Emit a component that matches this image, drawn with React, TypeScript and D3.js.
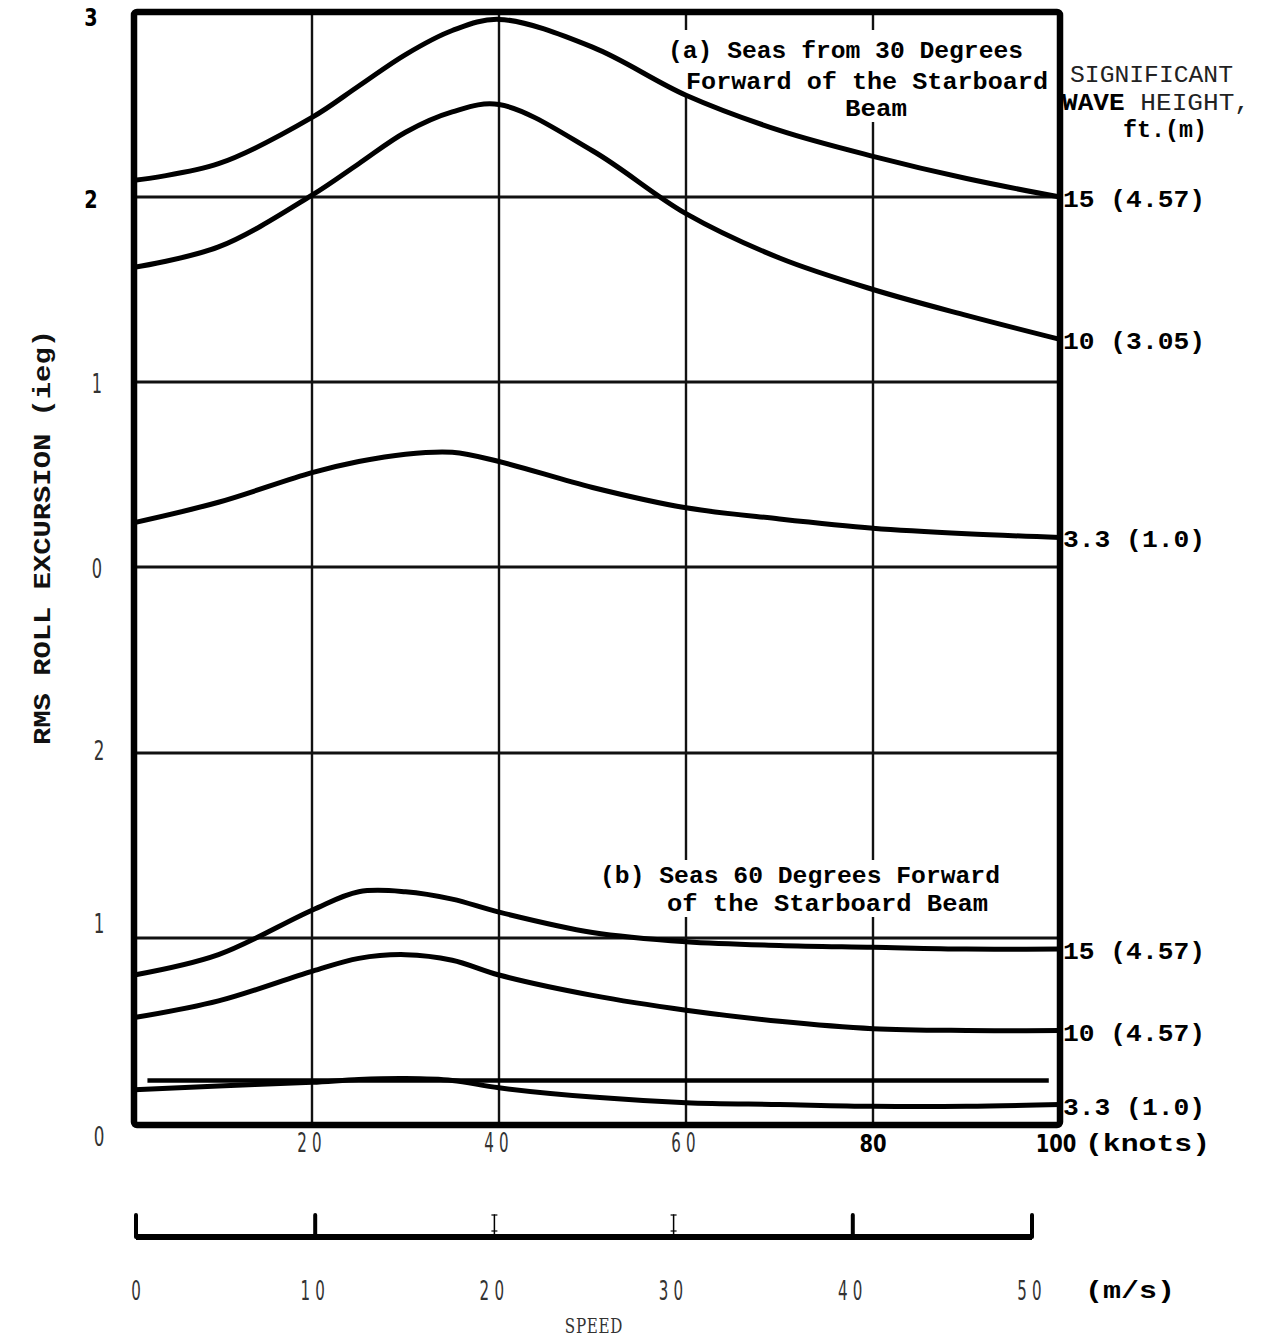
import React from "react";
import * as d3 from "d3";

// Speed samples (knots) and RMS roll excursion (deg) for each significant wave height
const KNOTS = [1, 10, 20, 25, 30, 35, 40, 50, 60, 70, 80, 90, 100];

// (a) seas from 30 degrees forward of the starboard beam
const ROLL_A_15 = [2.09, 2.18, 2.43, 2.6, 2.77, 2.9, 2.96, 2.81, 2.55, 2.36, 2.22, 2.1, 2.0];
const ROLL_A_10 = [1.62, 1.73, 2.01, 2.18, 2.35, 2.46, 2.5, 2.25, 1.91, 1.67, 1.5, 1.36, 1.23];
const ROLL_A_33 = [0.24, 0.35, 0.51, 0.57, 0.61, 0.62, 0.57, 0.43, 0.32, 0.26, 0.21, 0.18, 0.16];

// (b) seas 60 degrees forward of the starboard beam
const ROLL_B_15 = [0.8, 0.91, 1.15, 1.25, 1.25, 1.21, 1.14, 1.03, 0.98, 0.96, 0.95, 0.94, 0.94];
const ROLL_B_10 = [0.57, 0.66, 0.82, 0.89, 0.91, 0.88, 0.8, 0.69, 0.61, 0.55, 0.51, 0.5, 0.5];
const ROLL_B_33 = [0.18, 0.2, 0.22, 0.235, 0.24, 0.23, 0.19, 0.14, 0.11, 0.1, 0.09, 0.09, 0.1];

const WAVE_LABELS_A = ["15 (4.57)", "10 (3.05)", "3.3 (1.0)"];
const WAVE_LABELS_B = ["15 (4.57)", "10 (4.57)", "3.3 (1.0)"];

const KNOT_TICKS = [20, 40, 60, 80, 100];
const KNOT_TICKS_BOLD = [80, 100];
const MS_TICKS = [0, 10, 20, 30, 40, 50];
const MS_TICKS_THIN = [20, 30];
const UPPER_TICKS = [3, 2, 1, 0];
const UPPER_TICKS_BOLD = [3, 2];
const UPPER_GRID = [2, 1, 0];
const LOWER_TICKS = [2, 1, 0];
const LOWER_GRID = [2, 1];
const LOWER_REF = { value: 0.23, from: 2.4, to: 98.8 };

const W = 1261;
const H = 1340;
const FRAME = { left: 134, right: 1060, top: 12, bottom: 1125 };

const mono = "'Liberation Mono', 'DejaVu Sans Mono', monospace";
const sans = "'DejaVu Sans', sans-serif";
const serif = "'DejaVu Serif', 'Liberation Serif', serif";

// Tall, condensed numerals drawn by squeezing a regular face horizontally
function Narrow(props: {
  x: number;
  y: number;
  children: React.ReactNode;
  size?: number;
  squeeze?: number;
  bold?: boolean;
  spacing?: number;
  family?: string;
  anchor?: string;
}) {
  const { x, y, children, size = 26, squeeze = 0.62, bold = false, spacing = 0, family = sans, anchor = "middle" } = props;
  return (
    <text
      transform={`translate(${x},${y}) scale(${squeeze},1)`}
      textAnchor={anchor}
      fontFamily={family}
      fontWeight={bold ? "bold" : "normal"}
      fontSize={size}
      letterSpacing={spacing}
      fill={bold ? "#000" : "#333"}
    >
      {children}
    </text>
  );
}

export default function App() {
  const x = d3.scaleLinear().domain([0, 100]).range([125, 1060]);
  const yUp = d3.scaleLinear().domain([0, 3]).range([567, 12]);
  const yLo = d3.scaleLinear().domain([0, 2]).range([1123, 753]);
  const ms = d3.scaleLinear().domain([0, 50]).range([136, 1032]);

  const lineUp = d3
    .line<number>()
    .x((_, i) => x(KNOTS[i]))
    .y((d) => yUp(d))
    .curve(d3.curveCatmullRom.alpha(0.5));
  const lineLo = d3
    .line<number>()
    .x((_, i) => x(KNOTS[i]))
    .y((d) => yLo(d))
    .curve(d3.curveCatmullRom.alpha(0.5));

  const upper = [ROLL_A_15, ROLL_A_10, ROLL_A_33];
  const lower = [ROLL_B_15, ROLL_B_10, ROLL_B_33];

  const msAxisY = 1237;

  return (
    <svg
      width={W}
      height={H}
      viewBox={`0 0 ${W} ${H}`}
      style={{ position: "absolute", left: 0, top: 0, background: "#fff" }}
    >
      <rect x={0} y={0} width={W} height={H} fill="#fff" />

      {/* vertical speed gridlines */}
      {KNOT_TICKS.filter((k) => k < 100).map((k) => (
        <line
          key={"vg" + k}
          x1={x(k)}
          x2={x(k)}
          y1={FRAME.top}
          y2={FRAME.bottom}
          stroke="#111"
          strokeWidth={2.4}
        />
      ))}

      {/* horizontal roll gridlines */}
      {UPPER_GRID.map((v) => (
        <line
          key={"hu" + v}
          x1={FRAME.left}
          x2={FRAME.right}
          y1={yUp(v)}
          y2={yUp(v)}
          stroke="#111"
          strokeWidth={3}
        />
      ))}
      {LOWER_GRID.map((v) => (
        <line
          key={"hl" + v}
          x1={FRAME.left}
          x2={FRAME.right}
          y1={yLo(v)}
          y2={yLo(v)}
          stroke="#111"
          strokeWidth={3}
        />
      ))}
      <line
        x1={x(LOWER_REF.from)}
        x2={x(LOWER_REF.to)}
        y1={yLo(LOWER_REF.value)}
        y2={yLo(LOWER_REF.value)}
        stroke="#000"
        strokeWidth={4.5}
      />

      {/* annotation boxes */}
      <rect x={664} y={30} width={362} height={64} fill="#fff" />
      <rect x={838} y={94} width={74} height={28} fill="#fff" />
      <rect x={596} y={860} width={410} height={57} fill="#fff" />
      <text x={668} y={58} fontFamily={mono} fontWeight="bold" fontSize={24} textLength={355} lengthAdjust="spacingAndGlyphs">
        (a) Seas from 30 Degrees
      </text>
      <text x={686} y={89} fontFamily={mono} fontWeight="bold" fontSize={24} textLength={362} lengthAdjust="spacingAndGlyphs">
        Forward of the Starboard
      </text>
      <text x={845} y={116} fontFamily={mono} fontWeight="bold" fontSize={24} textLength={62} lengthAdjust="spacingAndGlyphs">
        Beam
      </text>
      <text x={600} y={883} fontFamily={mono} fontWeight="bold" fontSize={24} textLength={400} lengthAdjust="spacingAndGlyphs">
        (b) Seas 60 Degrees Forward
      </text>
      <text x={667} y={911} fontFamily={mono} fontWeight="bold" fontSize={24} textLength={321} lengthAdjust="spacingAndGlyphs">
        of the Starboard Beam
      </text>

      {/* roll curves */}
      {upper.map((s, i) => (
        <path
          key={"cu" + i}
          d={lineUp(s) || ""}
          fill="none"
          stroke="#000"
          strokeWidth={5}
          strokeLinecap="round"
        />
      ))}
      {lower.map((s, i) => (
        <path
          key={"cl" + i}
          d={lineLo(s) || ""}
          fill="none"
          stroke="#000"
          strokeWidth={5}
          strokeLinecap="round"
        />
      ))}

      {/* frame */}
      <rect
        x={FRAME.left}
        y={FRAME.top}
        width={FRAME.right - FRAME.left}
        height={FRAME.bottom - FRAME.top}
        fill="none"
        stroke="#000"
        strokeWidth={6.5}
        strokeLinejoin="round"
        rx={3}
      />

      {/* roll tick labels */}
      {UPPER_TICKS.map((v) => {
        const bold = UPPER_TICKS_BOLD.includes(v);
        return (
          <Narrow
            key={"tu" + v}
            x={bold ? 91 : 97}
            y={yUp(v) + (v === 3 ? 14 : 11)}
            bold={bold}
            size={bold ? 24 : 27}
            squeeze={bold ? 0.8 : 0.6}
          >
            {v}
          </Narrow>
        );
      })}
      {LOWER_TICKS.map((v) => (
        <Narrow key={"tl" + v} x={99} y={yLo(v) + (v === 1 ? -5 : v === 0 ? 23 : 7)} size={27}>
          {v}
        </Narrow>
      ))}

      {/* y axis title */}
      <text
        transform={`translate(50, ${(330 + 745) / 2}) rotate(-90)`}
        textAnchor="middle"
        fontFamily={mono}
        fontWeight="bold"
        fontSize={24}
        textLength={415}
        lengthAdjust="spacingAndGlyphs"
        fill="#111"
      >
        RMS ROLL EXCURSION (ieg)
      </text>

      {/* wave height labels */}
      <text x={1070} y={82} fontFamily={mono} fontSize={23} textLength={163} lengthAdjust="spacingAndGlyphs" fill="#222">
        SIGNIFICANT
      </text>
      <text x={1062} y={110} fontFamily={mono} fontSize={23} fill="#222" textLength={188} lengthAdjust="spacingAndGlyphs">
        <tspan fontWeight="bold" fill="#000">WAVE</tspan> HEIGHT,
      </text>
      <text x={1123} y={137} fontFamily={mono} fontWeight="bold" fontSize={23} textLength={84} lengthAdjust="spacingAndGlyphs">
        ft.(m)
      </text>
      {upper.map((s, i) => (
        <text
          key={"wa" + i}
          x={1063}
          y={yUp(s[s.length - 1]) + 10}
          fontFamily={mono}
          fontWeight="bold"
          fontSize={24}
          textLength={142}
          lengthAdjust="spacingAndGlyphs"
        >
          {WAVE_LABELS_A[i]}
        </text>
      ))}
      {lower.map((s, i) => (
        <text
          key={"wb" + i}
          x={1063}
          y={yLo(s[s.length - 1]) + 10}
          fontFamily={mono}
          fontWeight="bold"
          fontSize={24}
          textLength={142}
          lengthAdjust="spacingAndGlyphs"
        >
          {WAVE_LABELS_B[i]}
        </text>
      ))}

      {/* knots tick labels */}
      {KNOT_TICKS.map((k) => {
        const bold = KNOT_TICKS_BOLD.includes(k);
        return (
          <Narrow
            key={"kt" + k}
            x={x(k) - (k === 100 ? 4 : 0)}
            y={1152}
            bold={bold}
            size={bold ? 25 : 26}
            squeeze={bold ? 0.78 : 0.58}
            spacing={bold ? 0 : 9}
          >
            {k}
          </Narrow>
        );
      })}
      <text x={1085} y={1151} fontFamily={mono} fontWeight="bold" fontSize={24} textLength={125} lengthAdjust="spacingAndGlyphs">
        (knots)
      </text>

      {/* m/s axis */}
      <line x1={ms(0)} x2={ms(50)} y1={msAxisY} y2={msAxisY} stroke="#000" strokeWidth={6} />
      {MS_TICKS.map((v) => {
        const thin = MS_TICKS_THIN.includes(v);
        return (
          <g key={"ms" + v}>
            <line
              x1={ms(v)}
              x2={ms(v)}
              y1={msAxisY - 22}
              y2={msAxisY}
              stroke="#000"
              strokeWidth={thin ? 1.5 : 4}
              strokeLinecap="round"
            />
            {thin && (
              <>
                <line x1={ms(v) - 3} x2={ms(v) + 3} y1={msAxisY - 22} y2={msAxisY - 22} stroke="#000" strokeWidth={1.2} />
                <line x1={ms(v) - 3} x2={ms(v) + 3} y1={msAxisY - 6} y2={msAxisY - 6} stroke="#000" strokeWidth={1.2} />
              </>
            )}
            <Narrow x={ms(v)} y={1300} size={26} squeeze={0.58} spacing={v === 0 ? 0 : 9}>
              {v}
            </Narrow>
          </g>
        );
      })}
      <text x={1085} y={1298} fontFamily={mono} fontWeight="bold" fontSize={24} textLength={90} lengthAdjust="spacingAndGlyphs">
        (m/s)
      </text>
      <Narrow x={594} y={1333} size={21} squeeze={0.72} family={serif} spacing={1}>
        SPEED
      </Narrow>
    </svg>
  );
}
